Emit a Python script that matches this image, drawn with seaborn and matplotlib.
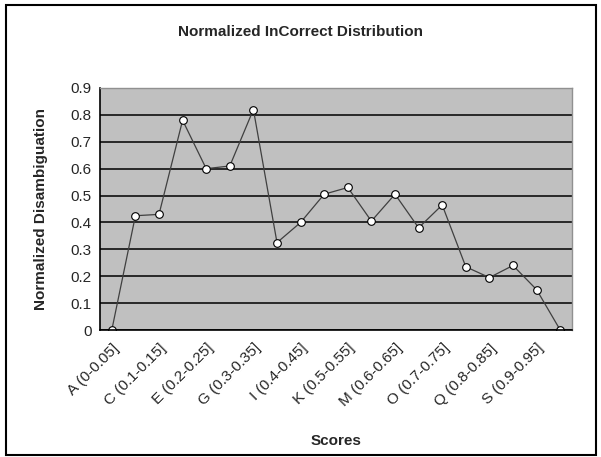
import numpy as np
import pandas as pd
import matplotlib
matplotlib.use("Agg")
import matplotlib.pyplot as plt
import seaborn as sns

letters = list("ABCDEFGHIJKLMNOPQRST")
ranges = ["0-0.05", "0.05-0.1", "0.1-0.15", "0.15-0.2", "0.2-0.25", "0.25-0.3",
          "0.3-0.35", "0.35-0.4", "0.4-0.45", "0.45-0.5", "0.5-0.55", "0.55-0.6",
          "0.6-0.65", "0.65-0.7", "0.7-0.75", "0.75-0.8", "0.8-0.85", "0.85-0.9",
          "0.9-0.95", "0.95-1"]
categories = [f"{l} ({r}]" for l, r in zip(letters, ranges)]
values = [0.0, 0.425, 0.43, 0.78, 0.60, 0.61, 0.82, 0.325, 0.40, 0.505,
          0.53, 0.405, 0.505, 0.38, 0.465, 0.235, 0.195, 0.24, 0.15, 0.0]

df = pd.DataFrame({"Scores": categories, "value": values})

sns.set_style("white")
plt.rcParams['font.family'] = ['Liberation Sans', 'DejaVu Sans']

fig = plt.figure(figsize=(6.01, 4.57), dpi=100)
ax = fig.add_axes([100 / 601, 1 - 330 / 457, 472 / 601, 242 / 457])
ax.set_facecolor("#c0c0c0")

sns.lineplot(data=df, x="Scores", y="value", ax=ax, color="#404040", lw=0.9,
             marker="o", markersize=5.5, markerfacecolor="white",
             markeredgecolor="black", markeredgewidth=0.8, sort=False)

ax.set_xlim(-0.5, len(categories) - 0.5)
ax.set_ylim(0, 0.9)
ax.set_yticks(np.arange(0, 0.91, 0.1))
ax.set_yticklabels(["0"] + [f"{v:.1f}" for v in np.arange(0.1, 0.91, 0.1)], fontsize=11)
ax.yaxis.grid(True, color="black", lw=1.1)
ax.set_axisbelow(True)

# ticks at category boundaries, labels every other category
ax.set_xticks(np.arange(-0.5, len(categories), 1.0))
ax.set_xticklabels([])
ax.set_xticks(np.arange(0, len(categories), 2), minor=True)
ax.set_xticklabels(categories[::2], minor=True, rotation=45, ha="right",
                   rotation_mode="anchor", fontsize=11)
ax.tick_params(axis="x", which="major", direction="out", length=4, width=1, color="black")
ax.tick_params(axis="x", which="minor", length=0, pad=8)
ax.tick_params(axis="y", direction="out", length=4, width=1, color="black", pad=2)

for s in ["left", "bottom"]:
    ax.spines[s].set_color("black")
    ax.spines[s].set_linewidth(1.2)
for s in ["top", "right"]:
    ax.spines[s].set_color("#909090")
    ax.spines[s].set_linewidth(1)

ax.set_xlabel("Scores", fontsize=11, fontweight="bold", labelpad=18)
ax.set_ylabel("Normalized Disambiguation", fontsize=11, fontweight="bold", labelpad=16)
fig.text(0.5, 1 - 32 / 457, "Normalized InCorrect Distribution", ha="center",
         va="center", fontsize=11, fontweight="bold")

fig.patches.append(plt.Rectangle((6 / 601, 2 / 457), 590 / 601, 450 / 457,
                                 transform=fig.transFigure, fill=False,
                                 edgecolor="black", lw=1.5))

fig.savefig("out.png", dpi=100)
